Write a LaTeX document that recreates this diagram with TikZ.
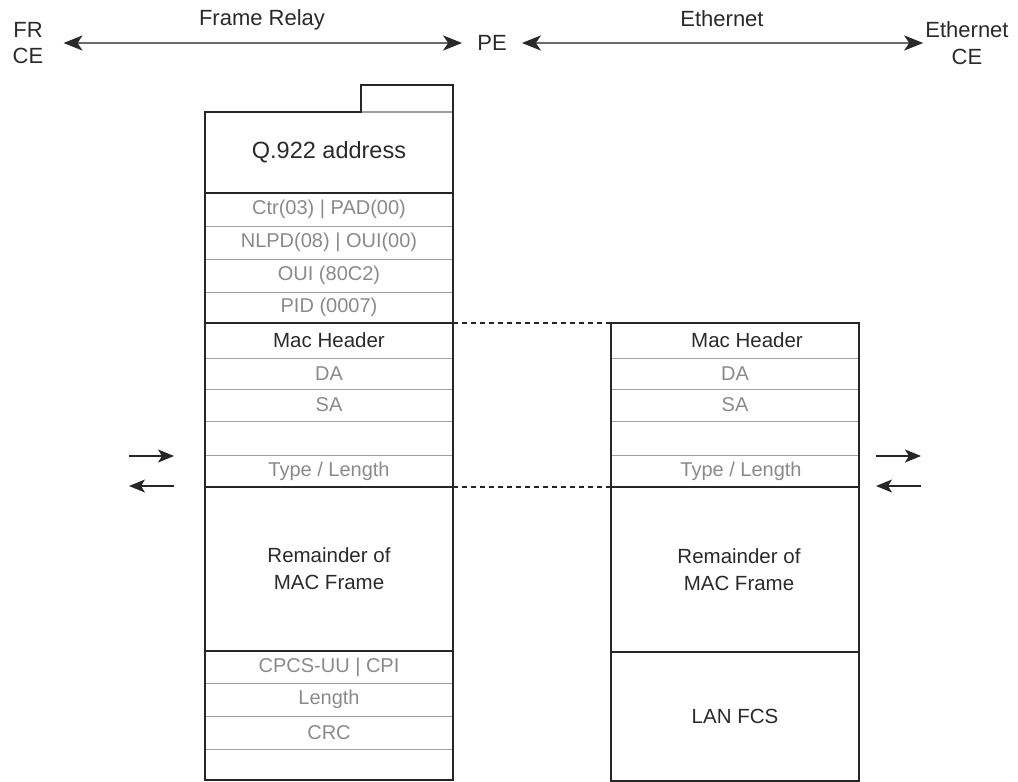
\documentclass[tikz,border=0pt]{standalone}
\usepackage{fontspec}
\setmainfont{Liberation Sans}
\usetikzlibrary{arrows.meta}
\definecolor{dk}{HTML}{2A2A2A}
\definecolor{lt}{HTML}{8A8A8A}
\definecolor{ln}{HTML}{A0A0A0}
\definecolor{arl}{HTML}{6A6A6A}
\begin{document}
\begin{tikzpicture}[x=1pt,y=-1pt,
  cell/.style={draw=ln, line width=0.9pt, anchor=north west, minimum width=248pt,
               inner sep=0pt, outer sep=0pt, align=center},
  lighttxt/.style={text=lt, font=\fontsize{20}{24}\selectfont},
  darktxt/.style={text=dk, font=\fontsize{20.5}{27}\selectfont},
  toplabel/.style={text=dk, font=\fontsize{22}{26.5}\selectfont, inner sep=0pt, align=center},
  frameline/.style={draw=black!85, line width=1.8pt},
  linkarrow/.style={draw=arl, line width=2.4pt, {Stealth[length=19pt,width=15pt,inset=5pt,color=dk]}-{Stealth[length=19pt,width=15pt,inset=5pt,color=dk]}},
  sidearrow/.style={draw=black!85, line width=1.3pt, -{Stealth[length=16pt,width=13pt,inset=4pt]}},
  dashlink/.style={draw=black!85, line width=1.5pt, dash pattern=on 5pt off 4pt}
]
\useasboundingbox (0,0) rectangle (1018,782);

% ---------- top labels ----------
\node[toplabel] (frce) at (28,43) {FR\\CE};
\node[toplabel] (pe) at (492,43) {PE};
\node[toplabel] (ethce) at (967,43) {Ethernet\\CE};
\node[toplabel] (frlab) at (262,20) {Frame Relay};
\node[toplabel] (ethlab) at (722,19) {Ethernet};
\draw[linkarrow, shorten <=20pt, shorten >=15pt] (frce.east |- pe.west) -- (pe.west);
\draw[linkarrow, shorten <=15pt, shorten >=2pt] (pe.east) -- (ethce.west |- pe.east);

% ---------- left frame (Frame Relay) ----------
\node[cell, minimum width=92pt, minimum height=26pt] (tab) at (361,85) {};
\node[cell, minimum height=81pt, text=dk, font=\fontsize{23.5}{28}\selectfont] (q) at (205,112) {Q.922 address};
\node[cell, minimum height=33pt, lighttxt] (ctr) at (205,193) {Ctr(03) | PAD(00)};
\node[cell, minimum height=33pt, lighttxt] (nlpd) at (205,226) {NLPD(08) | OUI(00)};
\node[cell, minimum height=33pt, lighttxt] (oui) at (205,259) {OUI (80C2)};
\node[cell, minimum height=31pt, lighttxt] (pid) at (205,292) {PID (0007)};
\node[cell, minimum height=35pt, darktxt] (lmac) at (205,323) {Mac Header};
\node[cell, minimum height=31pt, lighttxt] (lda) at (205,358) {DA};
\node[cell, minimum height=32pt, lighttxt] (lsa) at (205,389) {SA};
\node[cell, minimum height=34pt] (lemp) at (205,421) {};
\node[cell, minimum height=32pt, lighttxt] (ltype) at (205,455) {Type / Length};
\node[cell, minimum height=164pt, darktxt] (lrem) at (205,487) {Remainder of\\MAC Frame};
\node[cell, minimum height=32pt, lighttxt] (cpcs) at (205,651) {CPCS-UU | CPI};
\node[cell, minimum height=33pt, lighttxt] (llen) at (205,683) {Length};
\node[cell, minimum height=33pt, lighttxt] (crc) at (205,716) {CRC};
\node[cell, minimum height=31pt] (last) at (205,749) {};

\draw[frameline] (last.south west) -- (q.north west) -- (q.north west -| tab.west)
  -- (tab.north west) -- (tab.north east) -- (last.south east) -- cycle;
\draw[frameline] (q.south west) -- (q.south east);
\draw[frameline] (pid.south west) -- (pid.south east);
\draw[frameline] (ltype.south west) -- (ltype.south east);
\draw[frameline] (lrem.south west) -- (lrem.south east);

% ---------- right frame (Ethernet) ----------
\node[cell, minimum height=35pt, darktxt] (rmac) at (611,323) {\hspace*{24pt}Mac Header};
\node[cell, minimum height=31pt, lighttxt] (rda) at (611,358) {DA};
\node[cell, minimum height=32pt, lighttxt] (rsa) at (611,389) {SA};
\node[cell, minimum height=34pt] (remp) at (611,421) {};
\node[cell, minimum height=32pt, lighttxt] (rtype) at (611,455) {\hspace*{12pt}Type / Length};
\node[cell, minimum height=165pt, darktxt] (rrem) at (611,487) {\hspace*{8pt}Remainder of\\\hspace*{8pt}MAC Frame};
\node[cell, minimum height=129pt, darktxt] (fcs) at (611,652) {LAN FCS};

\draw[frameline] (rmac.north west) -- (rmac.north east) -- (fcs.south east) -- (fcs.south west) -- cycle;
\draw[frameline] (rtype.south west) -- (rtype.south east);
\draw[frameline] (rrem.south west) -- (rrem.south east);

% ---------- dashed correspondences ----------
\draw[dashlink] (pid.south east) -- (rmac.north west);
\draw[dashlink] (ltype.south east) -- (rtype.south west);

% ---------- side arrows ----------
\coordinate (la1) at (129,456);
\coordinate (la2) at (174,456);
\coordinate (lb1) at (174,486);
\coordinate (lb2) at (129,486);
\coordinate (ra1) at (876,456);
\coordinate (ra2) at (921,456);
\coordinate (rb1) at (921,486);
\coordinate (rb2) at (876,486);
\draw[sidearrow] (la1) -- (la2);
\draw[sidearrow] (lb1) -- (lb2);
\draw[sidearrow] (ra1) -- (ra2);
\draw[sidearrow] (rb1) -- (rb2);
\end{tikzpicture}
\end{document}
